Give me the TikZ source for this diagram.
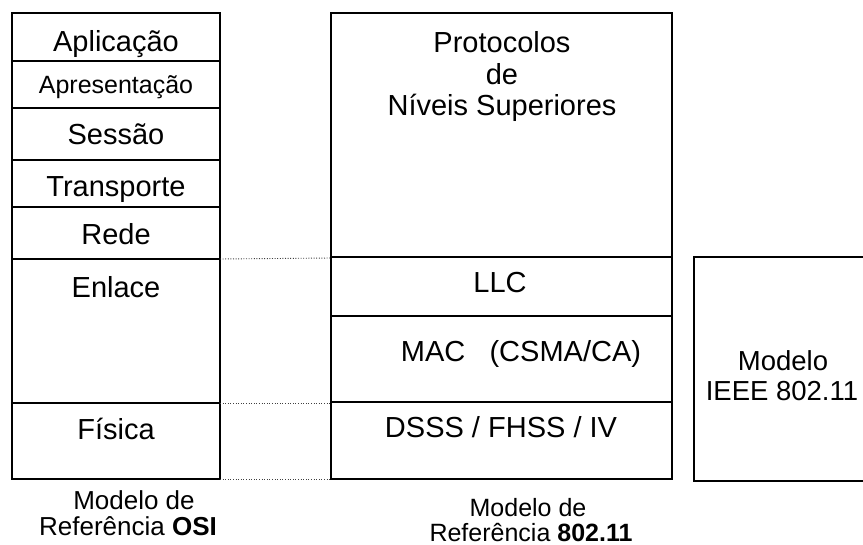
\documentclass[tikz,border=0pt]{standalone}
\usepackage{fontspec}
\setmainfont{Liberation Sans}
\begin{document}
\begin{tikzpicture}[x=1pt,y=-1pt,
  frame/.style={draw=black, line width=1.4pt},
  heavy/.style={draw=black, line width=2.4pt},
  dotline/.style={draw=black!75, line width=0.9pt, dash pattern=on 1pt off 1.6pt},
  txt/.style={inner sep=0pt, anchor=base, font=\fontsize{29}{33}\selectfont},
  small/.style={inner sep=0pt, anchor=base, font=\fontsize{25}{29}\selectfont},
  mid/.style={inner sep=0pt, anchor=base, font=\fontsize{26}{30}\selectfont},
  ieee/.style={inner sep=0pt, anchor=base, font=\fontsize{27.5}{31}\selectfont}]
\useasboundingbox (0,0) rectangle (863,545);
\clip (0,0) rectangle (863,545);

% OSI column
\draw[frame] (12,13) rectangle (220,479);
\foreach \yy in {61,108,160,207} \draw[frame] (12,\yy) -- (220,\yy);
\draw[heavy] (12,259) -- (220,259);
\draw[heavy] (12,403) -- (220,403);

\node[txt] (apl) at (116,52) {Aplicação};
\node[small] (apr) at (116,94) {Apresentação};
\node[txt] (ses) at (116,145) {Sessão};
\node[txt] (tra) at (116,197) {Transporte};
\node[txt] (red) at (116,245) {Rede};
\node[txt] (enl) at (116,298) {Enlace};
\node[txt] (fis) at (116,440) {Física};
\node[mid] (osiA) at (134,510) {Modelo de};
\node[mid] (osiB) at (128,535) {Referência \textbf{OSI}};

% 802.11 column
\draw[frame] (331,13) rectangle (672,479);
\draw[frame] (331,257) -- (672,257);
\draw[frame] (331,316) -- (672,316);
\draw[frame] (331,402) -- (672,402);

\node[txt] (pro1) at (502,53) {Protocolos};
\node[txt] (pro2) at (502,85) {de};
\node[txt] (pro3) at (502,116) {Níveis Superiores};
\node[txt] (llc) at (500,293) {LLC};
\node[txt] (mac) at (521,362) {MAC\ \ \ (CSMA/CA)};
\node[txt] (dsss) at (501,438) {DSSS / FHSS / IV};
\node[small] (refA) at (528,516) {Modelo de};
\node[small] (refB) at (531,541) {Referência \textbf{802.11}};

% IEEE box
\draw[frame] (900,257) -- (694,257) -- (694,481) -- (900,481);
\node[ieee] (ieA) at (783,371) {Modelo};
\node[ieee] (ieB) at (782,401) {IEEE 802.11};

% dotted connectors
\coordinate (o1) at (220,259); \coordinate (m1) at (331,258);
\coordinate (o2) at (220,403); \coordinate (m2) at (331,403);
\coordinate (o3) at (220,479); \coordinate (m3) at (331,479);
\draw[dotline] (o1) -- (m1);
\draw[dotline] (o2) -- (m2);
\draw[dotline] (o3) -- (m3);
\end{tikzpicture}
\end{document}
